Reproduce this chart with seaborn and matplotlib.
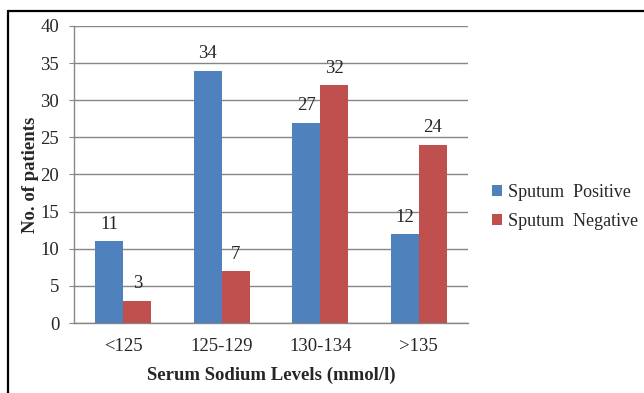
import matplotlib
matplotlib.use("Agg")
import matplotlib.pyplot as plt
import seaborn as sns
import pandas as pd
from matplotlib.lines import Line2D

categories = ["<125", "125-129", "130-134", ">135"]
series_names = ["Sputum  Positive", "Sputum  Negative"]
positive = [11, 34, 27, 12]
negative = [3, 7, 32, 24]
y_ticks = [0, 5, 10, 15, 20, 25, 30, 35, 40]
colors = ["#4F81BD", "#C0504D"]

rows = []
for c, p, n in zip(categories, positive, negative):
    rows.append({"cat": c, "series": series_names[0], "value": p})
    rows.append({"cat": c, "series": series_names[1], "value": n})
df = pd.DataFrame(rows)

sns.set_style("white")
plt.rcParams["font.family"] = ["Liberation Serif", "DejaVu Serif"]

fig = plt.figure(figsize=(6.44, 3.93), dpi=100)
ax = fig.add_axes([74/644, 1-323/393, (468-74)/644, (323-26)/393])

sns.barplot(data=df, x="cat", y="value", hue="series", order=categories,
            hue_order=series_names, palette=colors, width=0.57,
            saturation=1, ax=ax, zorder=3, edgecolor="none", linewidth=0)

for cont in ax.containers:
    ax.bar_label(cont, padding=6, fontsize=13.5)

ax.set_ylim(0, 40)
ax.set_yticks(y_ticks)
ax.set_xlim(-0.5, 3.5)
ax.grid(axis="y", color="#868686", linewidth=1, zorder=0)
ax.set_axisbelow(True)
for s in ["top", "right"]:
    ax.spines[s].set_visible(False)
for s in ["left", "bottom"]:
    ax.spines[s].set_color("#868686")
    ax.spines[s].set_linewidth(1)
ax.tick_params(axis="y", length=3.6, color="#868686", labelsize=13.5, pad=7, left=True)
ax.tick_params(axis="x", length=0, labelsize=13.5, pad=11)
ax.set_xlabel("Serum Sodium Levels (mmol/l)", fontsize=13.5, fontweight="bold", labelpad=8)
ax.set_ylabel("No. of patients", fontsize=13.5, fontweight="bold", labelpad=1)

leg = ax.legend(loc="center left", bbox_to_anchor=(1.02, 0.39), frameon=False,
                fontsize=13, handlelength=0.55, handleheight=0.55,
                handletextpad=0.35, labelspacing=0.65)

# outer frame (top and left)
fig.add_artist(Line2D([8/644, 1], [1-11/393, 1-11/393], color="black", linewidth=1.6,
                      transform=fig.transFigure))
fig.add_artist(Line2D([8/644, 8/644], [0, 1-11/393], color="black", linewidth=1.6,
                      transform=fig.transFigure))

fig.savefig("out.png", dpi=100)
